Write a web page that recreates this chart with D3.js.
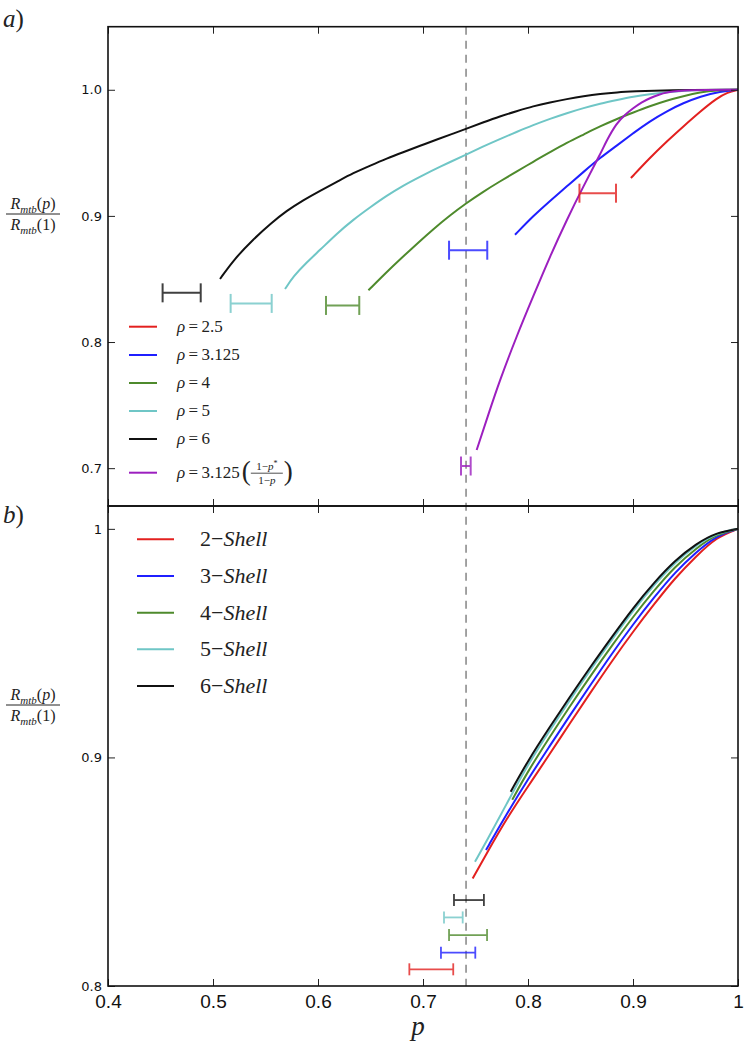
<!DOCTYPE html>
<html><head><meta charset="utf-8">
<script src="https://cdn.jsdelivr.net/npm/d3@7"></script>
<style>body{margin:0;background:#fff}</style>
</head><body><svg id="c" width="749" height="1046"></svg>
<script>
// ---------- data ----------
const xTickVals = [0.4, 0.5, 0.6, 0.7, 0.8, 0.9, 1.0];
const xTickLabels = ["0.4", "0.5", "0.6", "0.7", "0.8", "0.9", "1"];
const yTicksA = [0.7, 0.8, 0.9, 1.0];
const yTickLabelsA = ["0.7", "0.8", "0.9", "1.0"];
const yTicksB = [0.8, 0.9, 1.0];
const yTickLabelsB = ["0.8", "0.9", "1"];
const pStar = 0.741;

// panel a) series [p, R(p)/R(1)]
const rho25 = [[0.898,0.930],[0.916,0.946],[0.932,0.959],[0.948,0.971],[0.964,0.9828],[0.98,0.9934],[0.99,0.998],[1.0,1.0]];
const rho3125 = [[0.7876,0.885],[0.805,0.900],[0.821,0.912],[0.837,0.9234],[0.853,0.935],[0.8686,0.946],[0.885,0.956],[0.9003,0.9657],[0.916,0.975],[0.932,0.983],[0.948,0.9895],[0.964,0.9947],[0.983,0.9987],[1.0,1.0]];
const rho4 = [[0.648,0.841],[0.6654,0.8555],[0.678,0.8655],[0.697,0.880],[0.7098,0.8895],[0.725,0.900],[0.741,0.910],[0.757,0.919],[0.7733,0.9274],[0.789,0.935],[0.805,0.943],[0.821,0.9505],[0.837,0.958],[0.853,0.9645],[0.8686,0.971],[0.885,0.977],[0.9003,0.982],[0.916,0.987],[0.932,0.9915],[0.948,0.995],[0.9638,0.998],[0.98,0.9995],[1.0,1.0]];
const rho5 = [[0.5686,0.842],[0.5765,0.852],[0.589,0.863],[0.602,0.873],[0.618,0.886],[0.6336,0.897],[0.65,0.907],[0.6654,0.916],[0.681,0.924],[0.697,0.931],[0.716,0.939],[0.741,0.9485],[0.757,0.955],[0.7733,0.961],[0.789,0.9665],[0.805,0.972],[0.821,0.977],[0.837,0.9815],[0.853,0.9855],[0.8686,0.989],[0.885,0.992],[0.9003,0.9947],[0.916,0.9965],[0.932,0.998],[0.95,0.9993],[0.964,1.0],[1.0,1.0]];
const rho6 = [[0.5067,0.850],[0.52,0.8655],[0.5384,0.8815],[0.555,0.894],[0.570,0.904],[0.586,0.9125],[0.602,0.920],[0.618,0.927],[0.6336,0.934],[0.65,0.940],[0.6654,0.9455],[0.681,0.9505],[0.697,0.9555],[0.7146,0.961],[0.728,0.965],[0.741,0.969],[0.757,0.974],[0.7733,0.979],[0.789,0.983],[0.805,0.987],[0.821,0.990],[0.837,0.9926],[0.853,0.995],[0.8686,0.9968],[0.885,0.998],[0.9003,0.9987],[0.932,0.9998],[1.0,1.0]];
const rhoVar = [[0.7511,0.7144],[0.762,0.742],[0.7733,0.770],[0.7892,0.8047],[0.805,0.8363],[0.821,0.868],[0.837,0.897],[0.8527,0.9234],[0.8686,0.9485],[0.875,0.960],[0.8844,0.9736],[0.892,0.980],[0.9003,0.9855],[0.908,0.9900],[0.9162,0.9934],[0.924,0.996],[0.932,0.998],[0.95,0.9998],[1.0,1.0]];

// panel a) error bars [pLow, pHigh, y]
const errRho25 = [0.849, 0.8838, 0.918];
const errRho3125 = [0.7248, 0.7612, 0.8728];
const errRho4 = [0.6076, 0.6393, 0.829];
const errRho5 = [0.5168, 0.5559, 0.8306];
const errRho6 = [0.452, 0.4883, 0.839];
const errRhoVar = [0.7362, 0.7454, 0.7017];

// panel b) series
const shell2 = [[0.7473,0.847],[0.76,0.8575],[0.78,0.8735],[0.80,0.8873],[0.82,0.901],[0.84,0.915],[0.86,0.9287],[0.88,0.9422],[0.90,0.955],[0.92,0.967],[0.94,0.9785],[0.96,0.988],[0.98,0.9965],[1.0,1.0]];
const shell3 = [[0.76,0.8595],[0.78,0.8755],[0.80,0.8905],[0.82,0.9045],[0.84,0.9185],[0.86,0.932],[0.88,0.9455],[0.90,0.9582],[0.92,0.970],[0.94,0.981],[0.96,0.9898],[0.98,0.9972],[1.0,1.0]];
const shell4 = [[0.785,0.8815],[0.80,0.894],[0.82,0.9085],[0.84,0.9225],[0.86,0.936],[0.88,0.949],[0.90,0.9615],[0.92,0.973],[0.94,0.9835],[0.96,0.9915],[0.98,0.9978],[1.0,1.0]];
const shell5 = [[0.7495,0.8544],[0.76,0.8628],[0.78,0.880],[0.80,0.897],[0.82,0.9113],[0.84,0.9252],[0.86,0.9387],[0.88,0.9515],[0.90,0.9642],[0.92,0.9755],[0.94,0.9853],[0.96,0.993],[0.98,0.9982],[1.0,1.0]];
const shell6 = [[0.7835,0.885],[0.80,0.8986],[0.82,0.9128],[0.84,0.9266],[0.86,0.940],[0.88,0.9528],[0.90,0.9654],[0.92,0.9765],[0.94,0.9862],[0.96,0.9935],[0.98,0.9985],[1.0,1.0]];

// panel b) error bars
const errShell2 = [0.687, 0.7288, 0.8073];
const errShell3 = [0.7171, 0.7498, 0.8146];
const errShell4 = [0.7248, 0.761, 0.8223];
const errShell5 = [0.720, 0.7378, 0.830];
const errShell6 = [0.7295, 0.758, 0.8376];

const legendA = ["2.5", "3.125", "4", "5", "6"];
const legendB = ["2", "3", "4", "5", "6"];

// ---------- drawing ----------
const C = {red:"#e3201f", blue:"#1f1fff", green:"#4e8a2c", cyan:"#6fc6c6", black:"#111111", purple:"#9c1fbf"};
const svg = d3.select("#c");
const L = 108, R = 738;
const x = d3.scaleLinear().domain([0.4, 1.0]).range([L, R]);
const yA = d3.scaleLinear().domain([0.67, 1.05]).range([506, 26.7]);
const yB = d3.scaleLinear().domain([0.8, 1.01]).range([986, 506]);
const serif = "Liberation Serif, DejaVu Serif, serif";
const sans = "DejaVu Sans, Liberation Sans, sans-serif";

function axes(y, yt, ytl, top, bot, showX) {
  const g = svg.append("g");
  const mk = (gen, tr) => {
    const a = g.append("g").attr("transform", tr).call(gen);
    a.select(".domain").remove();
    a.selectAll(".tick line").attr("stroke", "#222").attr("stroke-width", 1);
    return a;
  };
  mk(d3.axisTop(x).tickValues(xTickVals).tickSizeInner(-7).tickSizeOuter(0).tickFormat(""), `translate(0,${top})`);
  const b = mk(d3.axisBottom(x).tickValues(xTickVals).tickSizeInner(-7).tickSizeOuter(0).tickPadding(9)
    .tickFormat((d,i) => showX ? xTickLabels[i] : ""), `translate(0,${bot})`);
  b.selectAll("text").attr("font-family", "Liberation Sans, sans-serif").attr("font-size", 19).attr("fill", "#111");
  const l = mk(d3.axisLeft(y).tickValues(yt).tickSizeInner(-7).tickSizeOuter(0).tickPadding(6)
    .tickFormat((d,i) => ytl[i]), `translate(${L},0)`);
  l.selectAll("text").attr("font-family", sans).attr("font-size", 13).attr("fill", "#111");
  mk(d3.axisRight(y).tickValues(yt).tickSizeInner(-7).tickSizeOuter(0).tickFormat(""), `translate(${R},0)`);
  g.append("rect").attr("x", L).attr("y", top).attr("width", R - L).attr("height", bot - top)
    .attr("fill", "none").attr("stroke", "#111").attr("stroke-width", 1.6);
}

function curve(y, data, color) {
  const line = d3.line().x(d => x(d[0])).y(d => y(d[1])).curve(d3.curveBasis);
  svg.append("path").attr("d", line(data)).attr("fill", "none").attr("stroke", color)
    .attr("stroke-width", 2).attr("stroke-linejoin", "round");
}
function errbar(y, e, color, cap, w) {
  const g = svg.append("g").attr("stroke", color).attr("stroke-width", w).attr("opacity", 0.8);
  g.append("line").attr("x1", x(e[0])).attr("x2", x(e[1])).attr("y1", y(e[2])).attr("y2", y(e[2]));
  [e[0], e[1]].forEach(v => g.append("line").attr("x1", x(v)).attr("x2", x(v))
    .attr("y1", y(e[2]) - cap / 2).attr("y2", y(e[2]) + cap / 2));
}

// dashed p* line
svg.append("line").attr("x1", x(pStar)).attr("x2", x(pStar)).attr("y1", yA(1.05)).attr("y2", yB(0.8))
  .attr("stroke", "#8c8c8c").attr("stroke-width", 1.6).attr("stroke-dasharray", "8,6");

// panel a
const seriesA = [[rho25, C.red, errRho25], [rho3125, C.blue, errRho3125], [rho4, C.green, errRho4],
  [rho5, C.cyan, errRho5], [rho6, C.black, errRho6], [rhoVar, C.purple, errRhoVar]];
seriesA.forEach(s => curve(yA, s[0], s[1]));
seriesA.forEach(s => errbar(yA, s[2], s[1], 19, 2));

// panel b
const seriesB = [[shell2, C.red, errShell2], [shell3, C.blue, errShell3], [shell4, C.green, errShell4],
  [shell5, C.cyan, errShell5], [shell6, C.black, errShell6]];
seriesB.forEach(s => curve(yB, s[0], s[1]));
seriesB.forEach(s => errbar(yB, s[2], s[1], 12, 1.8));

axes(yA, yTicksA, yTickLabelsA, 26.7, 506, false);
axes(yB, yTicksB, yTickLabelsB, 506, 986, true);

// legend a
const colsA = [C.red, C.blue, C.green, C.cyan, C.black, C.purple];
const rowsA = [326.7, 355, 383, 411, 439, 472.7];
rowsA.forEach((ry, i) => {
  svg.append("line").attr("x1", 129).attr("x2", 157).attr("y1", ry).attr("y2", ry)
    .attr("stroke", colsA[i]).attr("stroke-width", 2);
  const t = svg.append("text").attr("x", 177).attr("y", ry + 5).attr("font-family", serif)
    .attr("font-size", 17).attr("fill", "#222");
  t.append("tspan").attr("font-style", "italic").text("ρ");
  t.append("tspan").text("\u2009=\u2009" + (i < 5 ? legendA[i] : "3.125"));
  if (i === 5) {
    const w = t.node().getComputedTextLength();
    const px = 177 + w + 2;
    svg.append("text").attr("x", px).attr("y", ry + 7).attr("font-family", serif).attr("font-size", 27)
      .attr("fill", "#222").text("(");
    const fx = px + 25;
    const num = svg.append("text").attr("x", fx).attr("y", ry - 3).attr("text-anchor", "middle")
      .attr("font-family", serif).attr("font-size", 11).attr("fill", "#222");
    num.append("tspan").text("1−");
    num.append("tspan").attr("font-style", "italic").text("p");
    num.append("tspan").attr("dy", -4).attr("font-size", 8).text("*");
    svg.append("line").attr("x1", fx - 16).attr("x2", fx + 16).attr("y1", ry + 0.5).attr("y2", ry + 0.5)
      .attr("stroke", "#222").attr("stroke-width", 0.8);
    const den = svg.append("text").attr("x", fx).attr("y", ry + 11).attr("text-anchor", "middle")
      .attr("font-family", serif).attr("font-size", 11).attr("fill", "#222");
    den.append("tspan").text("1−");
    den.append("tspan").attr("font-style", "italic").text("p");
    svg.append("text").attr("x", fx + 17).attr("y", ry + 7).attr("font-family", serif).attr("font-size", 27)
      .attr("fill", "#222").text(")");
  }
});

// legend b
const colsB = [C.red, C.blue, C.green, C.cyan, C.black];
const rowsB = [539.3, 576, 612.7, 649.3, 686];
rowsB.forEach((ry, i) => {
  svg.append("line").attr("x1", 137).attr("x2", 174).attr("y1", ry).attr("y2", ry)
    .attr("stroke", colsB[i]).attr("stroke-width", 2);
  const t = svg.append("text").attr("x", 200).attr("y", ry + 7).attr("font-family", serif)
    .attr("font-size", 22).attr("fill", "#222");
  t.append("tspan").text(legendB[i] + "−");
  t.append("tspan").attr("font-style", "italic").text("Shell");
});

// y-labels (fraction)
function ylab(cy) {
  const mk = (yy, arg) => {
    const t = svg.append("text").attr("x", 33).attr("y", yy).attr("text-anchor", "middle")
      .attr("font-family", serif).attr("font-size", 16).attr("fill", "#222");
    t.append("tspan").attr("font-style", "italic").text("R");
    t.append("tspan").attr("font-style", "italic").attr("font-size", 11).attr("dy", 4).text("mtb");
    t.append("tspan").attr("dy", -4).text("(");
    t.append("tspan").attr("font-style", arg === "p" ? "italic" : "normal").text(arg);
    t.append("tspan").text(")");
  };
  mk(cy - 5, "p");
  svg.append("line").attr("x1", 6).attr("x2", 60).attr("y1", cy).attr("y2", cy)
    .attr("stroke", "#222").attr("stroke-width", 1);
  mk(cy + 16, "1");
}
ylab(214);
ylab(705);

// panel labels
[["a", 27], ["b", 523]].forEach(([s, yy]) => {
  const t = svg.append("text").attr("x", 3).attr("y", yy).attr("font-family", serif)
    .attr("font-size", 25).attr("fill", "#222");
  t.append("tspan").attr("font-style", "italic").text(s);
  t.append("tspan").text(")");
});

// x label
svg.append("text").attr("x", 418).attr("y", 1035).attr("text-anchor", "middle").attr("font-family", serif)
  .attr("font-style", "italic").attr("font-size", 27).attr("fill", "#222").text("p");
</script></body></html>
